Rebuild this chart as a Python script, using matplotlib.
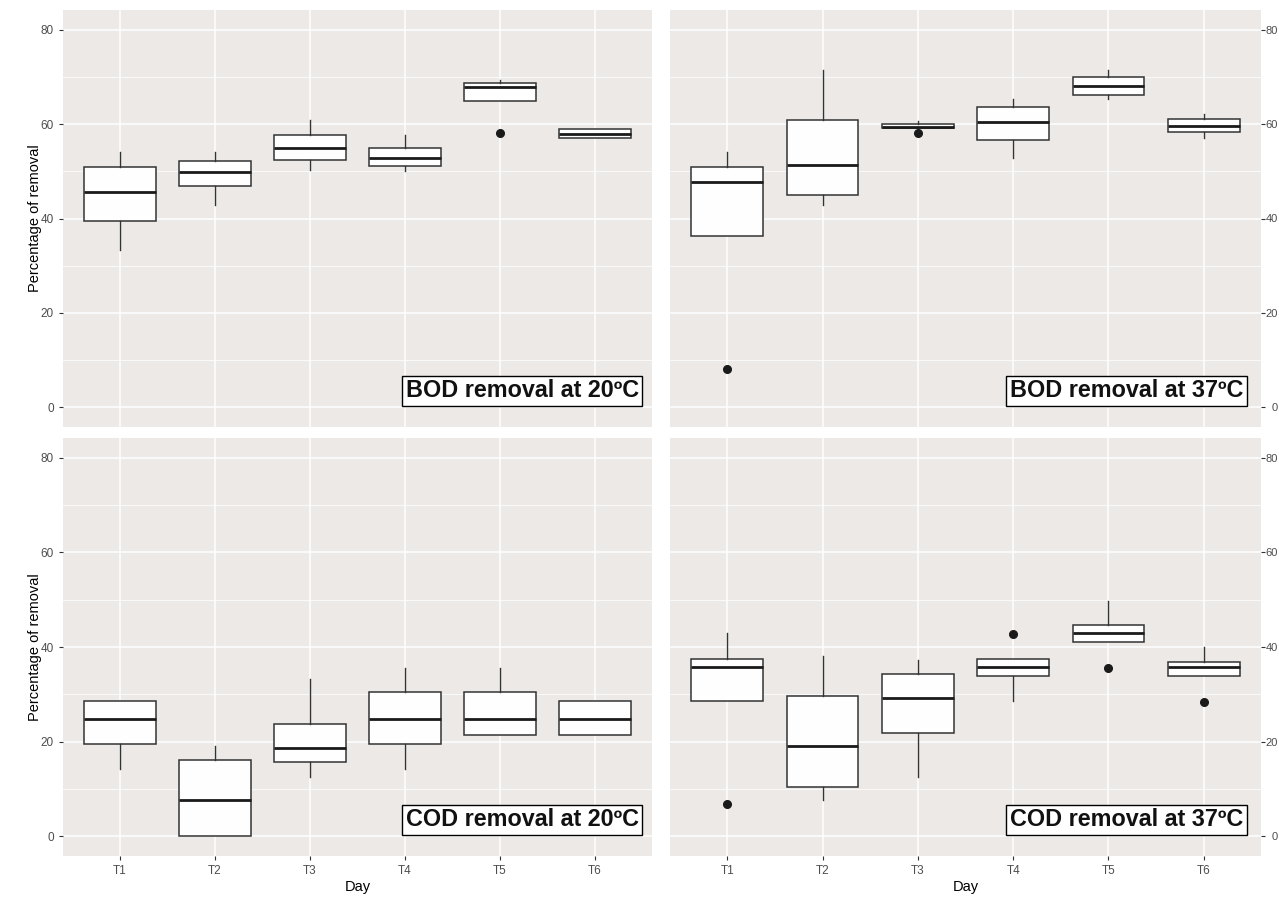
import numpy as np
import matplotlib
matplotlib.use('Agg')
import matplotlib.pyplot as plt

plt.rcParams['font.family'] = ['Liberation Sans', 'DejaVu Sans']

days = ['T1', 'T2', 'T3', 'T4', 'T5', 'T6']

# BOD removal at 20 C  (whisker low, q1, median, q3, whisker high, outliers)
bod20_lo = [33.4, 42.9, 50.2, 50.0, 65.0, 57.1]
bod20_q1 = [39.5, 46.9, 52.3, 51.1, 65.0, 57.1]
bod20_med = [45.7, 49.8, 55.0, 52.8, 67.9, 58.0]
bod20_q3 = [50.9, 52.1, 57.8, 55.0, 68.8, 58.9]
bod20_hi = [54.1, 54.1, 60.8, 57.8, 69.3, 58.9]
bod20_out = [[], [], [], [], [58.1], []]

# BOD removal at 37 C
bod37_lo = [36.3, 42.9, 59.1, 52.8, 65.4, 57.1]
bod37_q1 = [36.3, 45.0, 59.1, 56.6, 66.1, 58.3]
bod37_med = [47.8, 51.3, 59.5, 60.4, 68.0, 59.7]
bod37_q3 = [50.9, 60.9, 60.0, 63.7, 70.0, 61.0]
bod37_hi = [54.2, 71.4, 60.7, 65.4, 71.4, 62.2]
bod37_out = [[8.1], [], [58.1], [], [], []]

# COD removal at 20 C
cod20_lo = [14.2, 0.0, 12.6, 14.2, 21.4, 21.4]
cod20_q1 = [19.5, 0.0, 15.6, 19.5, 21.4, 21.4]
cod20_med = [24.8, 7.7, 18.6, 24.8, 24.8, 24.8]
cod20_q3 = [28.5, 16.2, 23.8, 30.4, 30.4, 28.5]
cod20_hi = [28.5, 19.1, 33.3, 35.6, 35.6, 28.5]
cod20_out = [[], [], [], [], [], []]

# COD removal at 37 C
cod37_lo = [28.5, 7.6, 12.5, 28.5, 41.0, 33.9]
cod37_q1 = [28.5, 10.4, 21.8, 33.9, 41.0, 33.9]
cod37_med = [35.7, 19.1, 29.2, 35.7, 43.0, 35.7]
cod37_q3 = [37.4, 29.7, 34.3, 37.4, 44.6, 36.8]
cod37_hi = [42.9, 38.2, 37.3, 37.4, 49.8, 40.1]
cod37_out = [[6.8], [], [], [42.7], [35.6], [28.4]]

panels = [
    ('BOD removal at 20ºC', bod20_lo, bod20_q1, bod20_med, bod20_q3, bod20_hi, bod20_out),
    ('BOD removal at 37ºC', bod37_lo, bod37_q1, bod37_med, bod37_q3, bod37_hi, bod37_out),
    ('COD removal at 20ºC', cod20_lo, cod20_q1, cod20_med, cod20_q3, cod20_hi, cod20_out),
    ('COD removal at 37ºC', cod37_lo, cod37_q1, cod37_med, cod37_q3, cod37_hi, cod37_out),
]

W, H = 1279, 898
fig = plt.figure(figsize=(W / 100, H / 100), dpi=100)
fig.patch.set_facecolor('white')

# panel boxes in pixels: left, right, top, bottom
boxes_px = [(63, 652, 10, 427), (670, 1261, 10, 427),
            (63, 652, 438, 856), (670, 1261, 438, 856)]
label_x = [6.46, 6.41, 6.46, 6.41]

for i, (title, lo, q1, med, q3, hi, out) in enumerate(panels):
    l, r, t, b = boxes_px[i]
    ax = fig.add_axes([l / W, 1 - b / H, (r - l) / W, (b - t) / H])
    ax.set_facecolor('#ECE9E7')
    for s in ax.spines.values():
        s.set_visible(False)

    stats = []
    for j in range(len(days)):
        stats.append(dict(whislo=lo[j], q1=q1[j], med=med[j], q3=q3[j],
                          whishi=hi[j], fliers=out[j]))
    ax.bxp(stats, positions=np.arange(1, 7), widths=0.75, patch_artist=True,
           showcaps=False,
           boxprops=dict(facecolor='#FEFEFE', edgecolor='#333333', linewidth=1.1),
           medianprops=dict(color='#1a1a1a', linewidth=2.0),
           whiskerprops=dict(color='#333333', linewidth=1.0),
           flierprops=dict(marker='o', markerfacecolor='#1a1a1a',
                           markeredgecolor='#1a1a1a', markersize=5.5))

    ax.set_xlim(0.4, 6.6)
    ax.set_ylim(-4.2, 84.2)
    ax.set_xticks(np.arange(1, 7))
    ax.set_xticklabels(days)
    ax.set_yticks([0, 20, 40, 60, 80])
    ax.set_yticks([10, 30, 50, 70], minor=True)
    ax.grid(which='major', color='white', linewidth=1.1)
    ax.grid(which='minor', axis='y', color='white', linewidth=0.55)
    ax.set_axisbelow(True)
    ax.tick_params(which='minor', length=0)
    ax.tick_params(axis='both', which='major', length=3.0, width=0.8,
                   color='#333333', labelcolor='#4D4D4D', labelsize=8.5)

    if i < 2:
        ax.tick_params(axis='x', bottom=False, labelbottom=False)
    else:
        ax.set_xlabel('Day', fontsize=10.5, labelpad=2)

    if i % 2 == 0:
        ax.set_ylabel('Percentage of removal', fontsize=10.5, labelpad=-1)
    else:
        ax.yaxis.tick_right()
        ax.tick_params(axis='y', labelsize=8, pad=9.4)
        for lab in ax.get_yticklabels():
            lab.set_horizontalalignment('right')

    ax.text(label_x[i], 1.0, title, ha='right', va='bottom', fontsize=16.8,
            fontweight='bold', color='#111111',
            bbox=dict(boxstyle='square,pad=0.16', facecolor='white',
                      edgecolor='black', linewidth=1.0))

fig.savefig('out.png', dpi=100)
